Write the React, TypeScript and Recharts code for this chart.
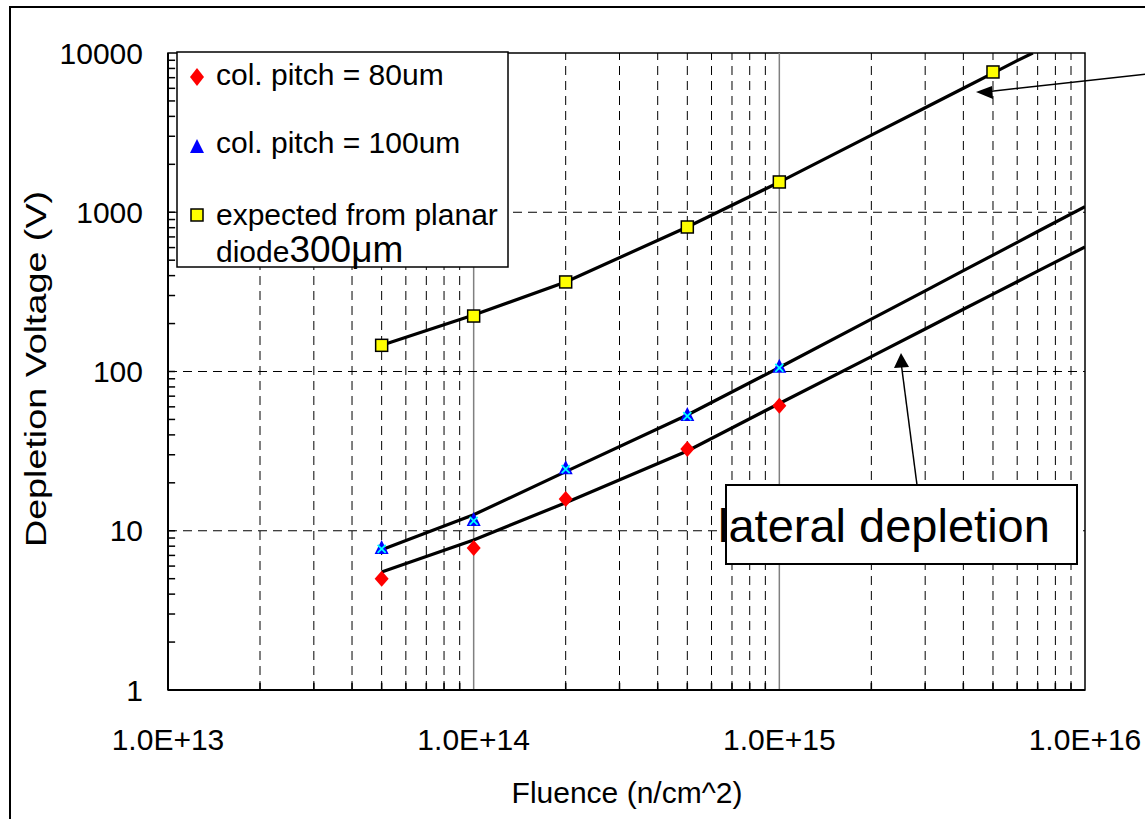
import {
  ComposedChart,
  Scatter,
  XAxis,
  YAxis,
  ReferenceLine,
  ReferenceArea,
} from 'recharts'

const FONT = '"Liberation Sans", Arial, sans-serif'

// measured points
const fluence = [5e13, 1e14, 2e14, 5e14, 1e15]
const pitch80 = [5, 7.8, 15.8, 32.6, 61]
const pitch100 = [7.8, 11.7, 24.7, 53.3, 107]
const planarF = [5e13, 1e14, 2e14, 5e14, 1e15, 5e15]
const planarV = [146, 223, 365, 808, 1549, 7600]

// calculated curves
const lateralF = [5e13, 1e14, 2e14, 5e14, 1e15, 2e15, 3e15, 4e15, 5e15, 6e15, 7e15, 1e16]
const lateral100 = [7.6, 12.6, 23.5, 53.3, 106, 213, 321, 430, 538, 647, 757, 1084]
const lateral80 = [5.5, 8.75, 15.0, 31.7, 63, 124, 185, 246, 306, 366, 427, 605]
const planarCurveF = [5e13, 1e14, 2e14, 5e14, 1e15, 2e15, 3e15, 4e15, 5e15, 6e15, 6.75e15]
const planarCurveV = [146, 226, 365, 808, 1545, 3050, 4530, 6010, 7480, 8950, 10000]

const xTicks = [1e13, 1e14, 1e15, 1e16]
const yTicks = [1, 10, 100, 1000, 10000]

const toPts = (xs: number[], ys: number[]) => xs.map((f, i) => ({ f, v: ys[i] }))

// minor positions 2..9 x 10^n
const minorX: number[] = []
for (const d of [13, 14, 15]) for (let m = 2; m <= 9; m++) minorX.push(m * Math.pow(10, d))
const minorY: number[] = []
for (const d of [0, 1, 2, 3]) for (let m = 2; m <= 9; m++) minorY.push(m * Math.pow(10, d))

const Diamond = (p: any) => {
  const { cx, cy } = p
  return <polygon points={`${cx},${cy - 8} ${cx + 7},${cy} ${cx},${cy + 8} ${cx - 7},${cy}`} fill="#ff0000" />
}

const Triangle = (p: any) => {
  const { cx, cy } = p
  return (
    <g>
      <polygon points={`${cx},${cy - 8} ${cx + 7},${cy + 6} ${cx - 7},${cy + 6}`} fill="#0000ff" />
      <path d={`M${cx - 4},${cy - 3} L${cx + 4},${cy + 5} M${cx + 4},${cy - 3} L${cx - 4},${cy + 5}`} stroke="#00ffff" strokeWidth={1.8} />
    </g>
  )
}

const Square = (p: any) => {
  const { cx, cy } = p
  return <rect x={cx - 6} y={cy - 6} width={12} height={12} fill="#ffff00" stroke="#000" strokeWidth={1.5} />
}

const NoShape = () => <g />

const tickStyle = { fontSize: 30, fill: '#000', fontFamily: FONT }

export default function App() {
  return (
    <div style={{ position: 'absolute', left: 0, top: 0, width: 1145, height: 819, background: '#fff', overflow: 'hidden' }}>
      <ComposedChart width={1145} height={819} margin={{ top: 53, right: 60, left: 0, bottom: 0 }}>
        <XAxis
          dataKey="f"
          type="number"
          scale="log"
          domain={[1e13, 1e16]}
          allowDataOverflow
          ticks={xTicks}
          tickFormatter={(v: number) => v.toExponential(1).toUpperCase()}
          tick={tickStyle}
          tickLine={false}
          tickSize={0}
          tickMargin={39}
          height={129}
          axisLine={{ stroke: '#000', strokeWidth: 2 }}
        />
        <YAxis
          dataKey="v"
          type="number"
          scale="log"
          domain={[1, 10000]}
          allowDataOverflow
          ticks={yTicks}
          tick={tickStyle}
          tickLine={false}
          tickSize={0}
          tickMargin={25}
          width={168}
          axisLine={{ stroke: '#000', strokeWidth: 2 }}
        />

        {/* gridlines */}
        {minorX.map((x) => (
          <ReferenceLine key={'gx' + x} x={x} stroke="#000" strokeWidth={1} strokeDasharray="9 6" />
        ))}
        {[1e14, 1e15].map((x) => (
          <ReferenceLine key={'mx' + x} x={x} stroke="#808080" strokeWidth={1.5} />
        ))}
        {[10, 100, 1000].map((y) => (
          <ReferenceLine key={'gy' + y} y={y} stroke="#000" strokeWidth={1} strokeDasharray="9 6" />
        ))}
        {/* inner minor ticks */}
        {minorX.map((x) => (
          <ReferenceLine key={'tx' + x} segment={[{ x, y: 1 }, { x, y: 1.11 }]} stroke="#000" strokeWidth={1.5} />
        ))}
        {minorY.map((y) => (
          <ReferenceLine key={'ty' + y} segment={[{ x: 1e13, y }, { x: 1.055e13, y }]} stroke="#000" strokeWidth={1.5} />
        ))}
        {[10, 100, 1000].map((y) => (
          <ReferenceLine key={'tmy' + y} segment={[{ x: 1e13, y }, { x: 1.055e13, y }]} stroke="#000" strokeWidth={1.5} />
        ))}
        <ReferenceArea x1={1e13} x2={1e16} y1={1} y2={10000} fill="none" stroke="#000" strokeWidth={1.5} />

        {/* curves */}
        <Scatter data={toPts(planarCurveF, planarCurveV)} dataKey="v" line={{ stroke: '#000', strokeWidth: 3.2 }} shape={NoShape} isAnimationActive={false} />
        <Scatter data={toPts(lateralF, lateral100)} dataKey="v" line={{ stroke: '#000', strokeWidth: 3.2 }} shape={NoShape} isAnimationActive={false} />
        <Scatter data={toPts(lateralF, lateral80)} dataKey="v" line={{ stroke: '#000', strokeWidth: 3.2 }} shape={NoShape} isAnimationActive={false} />

        {/* measured points */}
        <Scatter data={toPts(fluence, pitch80)} dataKey="v" shape={Diamond} isAnimationActive={false} />
        <Scatter data={toPts(fluence, pitch100)} dataKey="v" shape={Triangle} isAnimationActive={false} />
        <Scatter data={toPts(planarF, planarV)} dataKey="v" shape={Square} isAnimationActive={false} />
      </ComposedChart>

      <svg width={1145} height={819} style={{ position: 'absolute', left: 0, top: 0, pointerEvents: 'none' }} fontFamily={FONT}>
        {/* outer frame */}
        <rect x={10} y={7} width={1160} height={840} fill="none" stroke="#000" strokeWidth={2} />

        {/* legend */}
        <rect x={177} y={52} width={331} height={215} fill="#fff" stroke="#000" strokeWidth={1.5} />
        <polygon points="197,68 204,77 197,86 190,77" fill="#ff0000" />
        <polygon points="197,139 204,153 190,153" fill="#0000ff" />
        <rect x={191} y={209} width={12} height={12} fill="#ffff00" stroke="#000" strokeWidth={1.5} />
        <text x={216} y={85} fontSize={30}>col. pitch = 80um</text>
        <text x={216} y={153} fontSize={30}>col. pitch = 100um</text>
        <text x={216} y={225} fontSize={30}>expected from planar</text>
        <text x={216} y={262} fontSize={30}>
          diode<tspan fontSize={37}>300μm</tspan>
        </text>

        {/* axis titles */}
        <text
          transform="translate(36 369) rotate(-90) scale(1.3 1)"
          textAnchor="middle"
          dominantBaseline="central"
          fontSize={29}
        >
          Depletion Voltage (V)
        </text>
        <text x={627} y={803} textAnchor="middle" fontSize={30}>
          Fluence (n/cm^2)
        </text>

        {/* annotations */}
        <line x1={1147} y1={74} x2={985} y2={92} stroke="#000" strokeWidth={1.5} />
        <polygon points="976,92 992,86 993,99" fill="#000" />
        <line x1={917} y1={485} x2={901} y2={362} stroke="#000" strokeWidth={1.5} />
        <polygon points="901,353 894,368 909,367" fill="#000" />
        <rect x={726} y={485} width={351} height={79} fill="#fff" stroke="#000" strokeWidth={2} />
        <text x={718} y={542} fontSize={47}>lateral depletion</text>
      </svg>
    </div>
  )
}
